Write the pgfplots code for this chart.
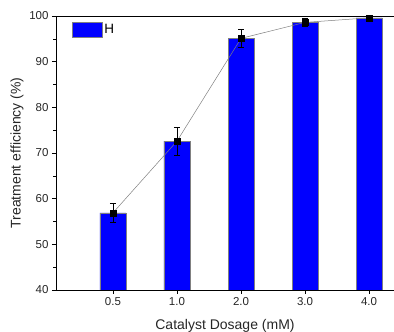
\documentclass[border=0pt]{standalone}
\usepackage{pgfplots}
\usepackage{pgfplotstable}
\pgfplotsset{compat=1.18}
\usepackage{fontspec}
\setmainfont{Liberation Sans}
\definecolor{barblue}{RGB}{0,0,255}
\pgfplotstableread{
x y err
0 56.9 2.0
1 72.6 3.0
2 95.1 2.0
3 98.6 0.9
4 99.6 0.4
}\datatable
\begin{document}
\begin{tikzpicture}[x=1pt,y=1pt]
\useasboundingbox (0,0) rectangle (394,332);
\begin{axis}[
  at={(56pt,42pt)}, anchor=south west,
  scale only axis, width=338pt, height=274pt,
  xmin=-0.89, xmax=4.39, ymin=40, ymax=100,
  axis y line*=left,
  xtick={0,1,2,3,4}, xticklabels={0.5,1.0,2.0,3.0,4.0},
  xtick pos=bottom,
  ytick={40,50,...,100}, minor y tick num=1,
  tick align=outside,
  major tick length=4pt, minor tick length=2.5pt,
  tick style={black, line width=0.6pt},
  axis line style={black, line width=0.7pt},
  /pgf/number format/assume math mode=true,
  every tick label/.append style={font=\fontsize{11.5}{13}\selectfont, text=black!85},
  xticklabel style={font=\fontsize{11.5}{13}\selectfont, text=black!85},
  yticklabel style={font=\fontsize{11.5}{13}\selectfont, text=black!85},
  xlabel={Catalyst Dosage (mM)},
  ylabel={Treatment efficiency (\%)},
  label style={font=\fontsize{14}{16}\selectfont, text=black!85},
  xlabel style={yshift=-7pt},
  ylabel style={yshift=-1pt},
  legend style={draw=none, fill=none, at={(0.047,0.978)}, anchor=north west,
    inner sep=0pt, font=\fontsize{13.5}{15}\selectfont,
    legend cell align=left},
]
\addplot[ybar, bar width=26pt, fill=barblue, draw=black!50, line width=0.4pt, bar shift=0pt,
  legend image code/.code={\draw[fill=barblue, draw=black!50, line width=0.4pt] (0pt,-7.5pt) rectangle (30pt,7.5pt);}]
  table[x=x, y=y] {\datatable};
\addlegendentry{H}
\addplot[gray, line width=0.5pt, mark=square*, mark size=3pt,
  mark options={black, fill=black},
  error bars/.cd, y dir=both, y explicit,
  error bar style={black, line width=0.5pt},
  error mark options={rotate=90, mark size=3pt, black, line width=0.5pt}]
  table[x=x, y=y, y error=err] {\datatable};
\end{axis}
\end{tikzpicture}
\end{document}
